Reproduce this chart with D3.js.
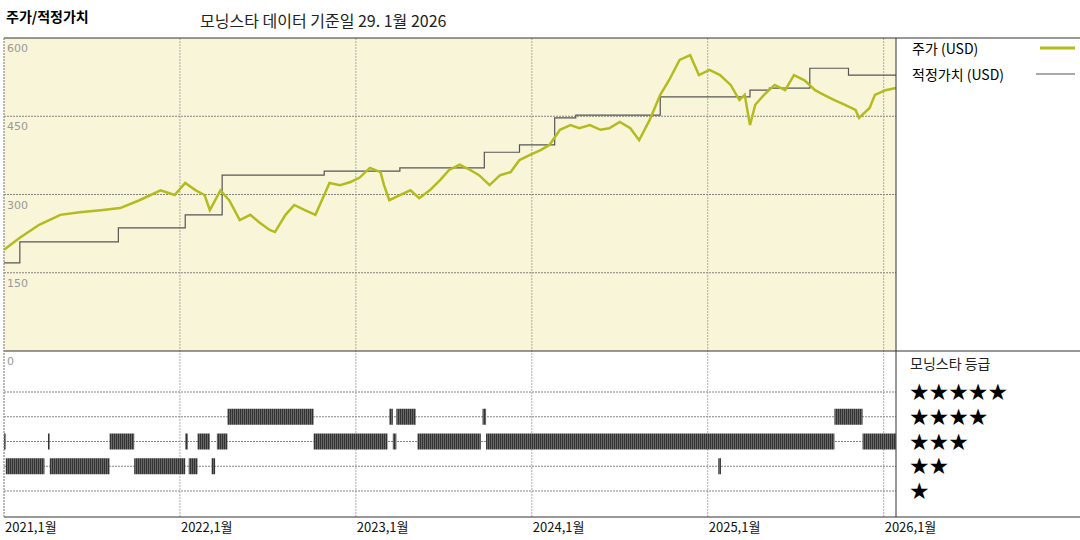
<!DOCTYPE html>
<html><head><meta charset="utf-8">
<script src="https://cdn.jsdelivr.net/npm/d3@7"></script>
<style>body{margin:0;background:#fff;font-family:"Noto Sans CJK KR","DejaVu Sans",sans-serif}</style>
</head><body><div id="vizDiv"></div>
<script>
// price in decimal years / USD
const priceT = [0,.09,.20,.32,.43,.55,.66,.77,.89,.97,1.03,1.09,1.14,1.17,1.23,1.28,1.34,1.40,1.45,1.51,1.54,1.60,1.65,1.71,1.77,1.82,1.85,1.91,1.97,2.02,2.08,2.14,2.16,2.19,2.25,2.31,2.36,2.42,2.48,2.53,2.59,2.65,2.70,2.76,2.82,2.88,2.93,2.99,3.05,3.10,3.16,3.22,3.27,3.33,3.39,3.44,3.50,3.56,3.61,3.67,3.73,3.78,3.84,3.90,3.95,4.01,4.07,4.13,4.18,4.21,4.24,4.27,4.32,4.38,4.44,4.49,4.55,4.61,4.66,4.72,4.78,4.84,4.86,4.92,4.95,5.01,5.07];
const priceV = [194,217,242,261,266,270,274,289,308,299,322,308,299,270,308,289,251,261,247,232,228,261,280,270,261,299,322,318,324,332,351,343,318,289,299,308,293,308,328,347,357,347,337,318,337,343,366,376,385,395,424,433,427,433,424,427,439,427,404,443,491,519,558,567,529,539,529,510,481,491,433,472,491,510,500,529,519,500,491,481,472,462,447,466,491,500,504];
const fairT = [0,.09,.65,1.03,1.24,1.82,2.25,2.73,2.93,3.13,3.25,3.73,4.24,4.35,4.58,4.80,5.07];
const fairV = [169,209,236,261,337,345,351,381,395,447,452,487,500,504,542,529,529];
// rating segments [start, end] in years since 2021
const rating2 = [[.01,.23],[.26,.60],[.74,1.03],[1.05,1.10],[1.18,1.20],[4.06,4.075]];
const rating3 = [[0,.01],[.25,.26],[.60,.74],[1.03,1.045],[1.10,1.17],[1.21,1.27],[1.76,2.18],[2.21,2.23],[2.35,2.71],[2.74,4.72],[4.88,5.07]];
const rating4 = [[1.27,1.76],[2.19,2.21],[2.23,2.34],[2.72,2.74],[4.72,4.88]];
const years = [2021,2022,2023,2024,2025,2026];
const yTicks = [0,150,300,450,600];

const svg = d3.select("#vizDiv").append("svg").attr("width",1080).attr("height",540);
const x = d3.scaleLinear().domain([2021,2026.07]).range([4,896]);
const y = d3.scaleLinear().domain([0,600]).range([351,38]);
const r = d3.scaleLinear().domain([1,5]).range([491,392]);

const defs = svg.append("defs");
const pat = defs.append("pattern").attr("id","stripes").attr("patternUnits","userSpaceOnUse").attr("width",2).attr("height",20);
pat.append("rect").attr("width",2).attr("height",20).attr("fill","#333");
pat.append("rect").attr("x",1.4).attr("width",0.6).attr("height",20).attr("fill","#8a8a8a");

svg.append("rect").attr("x",4).attr("y",38).attr("width",892).attr("height",313).attr("fill","#f9f5d9");

// horizontal grid
svg.selectAll(".hg").data(yTicks.slice(1,4)).join("line")
  .attr("x1",4).attr("x2",896).attr("y1",d=>y(d)).attr("y2",d=>y(d))
  .attr("stroke","#666").attr("stroke-dasharray","2,1").attr("stroke-width",0.8);
svg.selectAll(".rg").data([5,4,3,2,1]).join("line")
  .attr("x1",4).attr("x2",896).attr("y1",d=>r(d)).attr("y2",d=>r(d))
  .attr("stroke","#666").attr("stroke-dasharray","2,1").attr("stroke-width",0.8);
// vertical grid
svg.selectAll(".vg").data(years).join("line")
  .attr("x1",d=>x(d)).attr("x2",d=>x(d)).attr("y1",38).attr("y2",517)
  .attr("stroke","#999").attr("stroke-dasharray","2,1").attr("stroke-width",0.8);

// y labels
svg.selectAll(".yl").data(yTicks).join("text")
  .attr("x",7).attr("y",d=>y(d)+14).attr("font-size",11).attr("fill","#999")
  .attr("font-family","DejaVu Sans").text(d=>d);

// fair value line
svg.append("path").datum(fairT.map((t,i)=>[t,fairV[i]]))
  .attr("d",d3.line().x(d=>x(2021+d[0])).y(d=>y(d[1])).curve(d3.curveStepAfter))
  .attr("fill","none").attr("stroke","#555").attr("stroke-width",1.2);
// price line
svg.append("path").datum(priceT.map((t,i)=>[t,priceV[i]]))
  .attr("d",d3.line().x(d=>x(2021+d[0])).y(d=>y(d[1])))
  .attr("fill","none").attr("stroke","#b4bb1e").attr("stroke-width",2.5);

// ratings
[[2,rating2],[3,rating3],[4,rating4]].forEach(([lvl,segs])=>{
  svg.selectAll(null).data(segs).join("rect")
    .attr("x",d=>x(2021+d[0])).attr("width",d=>Math.max(1.5,x(2021+d[1])-x(2021+d[0])))
    .attr("y",r(lvl)-8).attr("height",16).attr("fill","url(#stripes)");
});

// frame
svg.append("line").attr("x1",4).attr("x2",1080).attr("y1",38).attr("y2",38).attr("stroke","#333");
svg.append("line").attr("x1",4).attr("x2",1080).attr("y1",351).attr("y2",351).attr("stroke","#333");
svg.append("line").attr("x1",4).attr("x2",1080).attr("y1",517).attr("y2",517).attr("stroke","#333");
svg.append("line").attr("x1",896).attr("x2",896).attr("y1",38).attr("y2",517).attr("stroke","#333");
svg.append("line").attr("x1",4).attr("x2",4).attr("y1",38).attr("y2",517).attr("stroke","#999").attr("stroke-dasharray","2,1");

// x labels
svg.selectAll(".xl").data(years).join("text")
  .attr("x",d=>x(d)+1).attr("y",532).attr("font-size",13).attr("fill","#111").text(d=>d+",1월");

// titles
svg.append("text").attr("x",6).attr("y",22).attr("font-size",14).attr("font-weight","bold").text("주가/적정가치");
svg.append("text").attr("x",200).attr("y",27).attr("font-size",16).attr("fill","#222").text("모닝스타 데이터 기준일 29. 1월 2026");

// legend
svg.append("text").attr("x",912).attr("y",54).attr("font-size",14).text("주가 (USD)");
svg.append("line").attr("x1",1040).attr("x2",1075).attr("y1",48).attr("y2",48).attr("stroke","#b4bb1e").attr("stroke-width",3);
svg.append("text").attr("x",912).attr("y",80).attr("font-size",14).text("적정가치 (USD)");
svg.append("line").attr("x1",1036).attr("x2",1075).attr("y1",74).attr("y2",74).attr("stroke","#555").attr("stroke-width",1.2);
svg.append("text").attr("x",910).attr("y",369).attr("font-size",14).attr("fill","#222").text("모닝스타 등급");
svg.selectAll(".st").data([5,4,3,2,1]).join("text")
  .attr("x",909).attr("y",d=>r(d)+8).attr("font-size",23).attr("letter-spacing",-1).attr("font-family","DejaVu Sans").text(d=>"★".repeat(d));
</script></body></html>
